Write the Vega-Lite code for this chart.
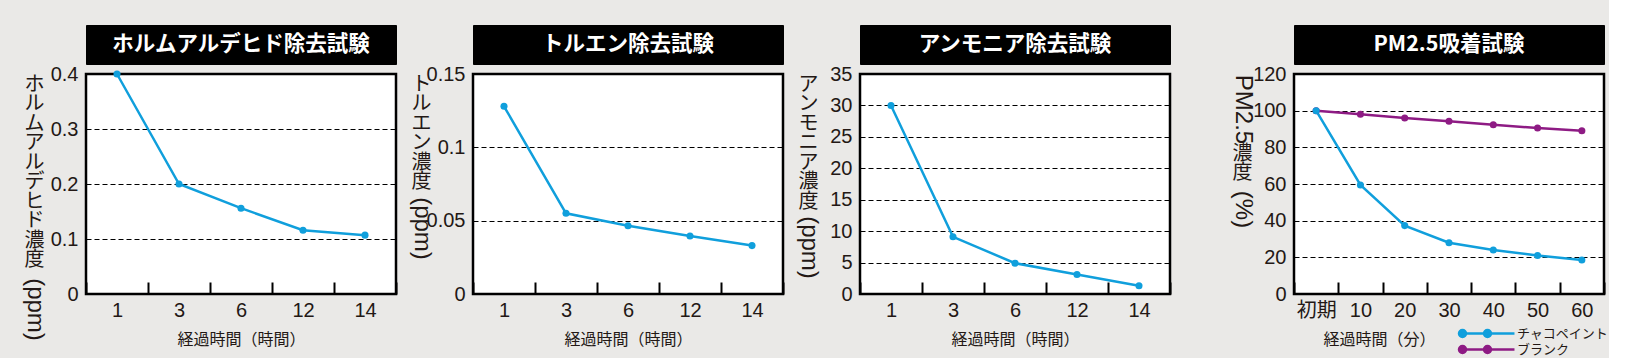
{
  "$schema": "https://vega.github.io/schema/vega-lite/v6.json",
  "background": "#eae9e7",
  "padding": {"left": 20, "top": 24, "right": 0, "bottom": 0},
  "spacing": 55,
  "config": {
    "view": {"stroke": "#000000", "strokeWidth": 2.5, "fill": "#ffffff"},
    "axisX": {
      "tickBand": "extent", "ticks": true, "tickSize": -12, "tickWidth": 2, "tickColor": "#000000",
      "domain": false, "grid": false, "labelAngle": 0,
      "labelFont": "Liberation Sans, Noto Sans CJK JP", "labelFontSize": 20, "labelColor": "#231815", "labelPadding": 18,
      "titleFont": "Noto Sans CJK JP", "titleFontSize": 16, "titleFontWeight": "normal", "titleColor": "#231815", "titlePadding": 11
    },
    "axisY": {
      "ticks": false, "domain": false, "grid": true, "gridDash": [5, 3], "gridColor": "#000000", "gridWidth": 1.2,
      "labelFont": "Liberation Sans", "labelFontSize": 20, "labelColor": "#231815", "labelPadding": 8,
      "titleFont": "Noto Sans CJK JP", "titleFontSize": 20, "titleFontWeight": "normal", "titleColor": "#231815",
      "titleAlign": "center", "titleLineHeight": 19.5
    }
  },
  "hconcat": [
    {
      "spacing": 8,
      "hconcat": [
        {
          "bounds": "flush",
          "spacing": 10,
          "vconcat": [
            {
              "width": 310, "height": 39,
              "view": {"fill": "#000000", "stroke": "#000000"},
              "data": {"values": [{"name": "ホルムアルデヒド除去試験"}]},
              "mark": {"type": "text", "color": "#ffffff", "font": "Noto Sans CJK JP", "fontSize": 21.5, "fontWeight": "bold"},
              "encoding": {"text": {"field": "name"}}
            },
            {
              "width": 310, "height": 220,
              "data": {"values": [
                {"time": "1", "value": 0.4},
                {"time": "3", "value": 0.2},
                {"time": "6", "value": 0.156},
                {"time": "12", "value": 0.116},
                {"time": "14", "value": 0.107}
              ]},
              "encoding": {
                "x": {"field": "time", "type": "ordinal", "sort": ["1", "3", "6", "12", "14"],
                  "scale": {"type": "band", "paddingInner": 0, "paddingOuter": 0},
                  "axis": {"title": "経過時間（時間）"}}
              },
              "layer": [
                {
                  "mark": {"type": "line", "color": "#109fdc", "strokeWidth": 2.5},
                  "encoding": {
                    "y": {"field": "value", "type": "quantitative", "scale": {"domain": [0, 0.4], "nice": false},
                      "axis": {"orient": "left", "values": [0, 0.1, 0.2, 0.3, 0.4], "format": ".2~g",
                        "title": ["ホ", "ル", "ム", "ア", "ル", "デ", "ヒ", "ド", "濃", "度"],
                        "titleX": -52, "titleY": 0, "titleAngle": 0, "titleBaseline": "top",
                        "encode": {"title": {"update": {"angle": {"value": 0}}}}}}
                  }
                },
                {
                  "mark": {"type": "point", "filled": true, "size": 50, "opacity": 1, "color": "#109fdc"},
                  "encoding": {
                    "y": {"field": "value", "type": "quantitative",
                      "axis": {"orient": "left", "labels": false, "grid": false, "title": "(ppm)",
                        "titleFont": "Liberation Sans", "titleFontSize": 24,
                        "titleX": -52, "titleY": 235, "titleAngle": 90, "titleBaseline": "middle",
                        "encode": {"title": {"update": {"angle": {"value": 90}}}}}}
                  }
                }
              ],
              "resolve": {"axis": {"y": "independent"}}
            }
          ]
        },
        {
          "bounds": "flush",
          "spacing": 10,
          "vconcat": [
            {
              "width": 310, "height": 39,
              "view": {"fill": "#000000", "stroke": "#000000"},
              "data": {"values": [{"name": "トルエン除去試験"}]},
              "mark": {"type": "text", "color": "#ffffff", "font": "Noto Sans CJK JP", "fontSize": 21.5, "fontWeight": "bold"},
              "encoding": {"text": {"field": "name"}}
            },
            {
              "width": 310, "height": 220,
              "data": {"values": [
                {"time": "1", "value": 0.128},
                {"time": "3", "value": 0.055},
                {"time": "6", "value": 0.0465},
                {"time": "12", "value": 0.0395},
                {"time": "14", "value": 0.033}
              ]},
              "encoding": {
                "x": {"field": "time", "type": "ordinal", "sort": ["1", "3", "6", "12", "14"],
                  "scale": {"type": "band", "paddingInner": 0, "paddingOuter": 0},
                  "axis": {"title": "経過時間（時間）"}}
              },
              "layer": [
                {
                  "mark": {"type": "line", "color": "#109fdc", "strokeWidth": 2.5},
                  "encoding": {
                    "y": {"field": "value", "type": "quantitative", "scale": {"domain": [0, 0.15], "nice": false},
                      "axis": {"orient": "left", "values": [0, 0.05, 0.1, 0.15], "format": ".2~g",
                        "title": ["ト", "ル", "エ", "ン", "濃", "度"],
                        "titleX": -52, "titleY": 0, "titleAngle": 0, "titleBaseline": "top",
                        "encode": {"title": {"update": {"angle": {"value": 0}}}}}}
                  }
                },
                {
                  "mark": {"type": "point", "filled": true, "size": 50, "opacity": 1, "color": "#109fdc"},
                  "encoding": {
                    "y": {"field": "value", "type": "quantitative",
                      "axis": {"orient": "left", "labels": false, "grid": false, "title": "(ppm)",
                        "titleFont": "Liberation Sans", "titleFontSize": 24,
                        "titleX": -52, "titleY": 154, "titleAngle": 90, "titleBaseline": "middle",
                        "encode": {"title": {"update": {"angle": {"value": 90}}}}}}
                  }
                }
              ],
              "resolve": {"axis": {"y": "independent"}}
            }
          ]
        },
        {
          "bounds": "flush",
          "spacing": 10,
          "vconcat": [
            {
              "width": 310, "height": 39,
              "view": {"fill": "#000000", "stroke": "#000000"},
              "data": {"values": [{"name": "アンモニア除去試験"}]},
              "mark": {"type": "text", "color": "#ffffff", "font": "Noto Sans CJK JP", "fontSize": 21.5, "fontWeight": "bold"},
              "encoding": {"text": {"field": "name"}}
            },
            {
              "width": 310, "height": 220,
              "data": {"values": [
                {"time": "1", "value": 30},
                {"time": "3", "value": 9.1},
                {"time": "6", "value": 4.9},
                {"time": "12", "value": 3.1},
                {"time": "14", "value": 1.3}
              ]},
              "encoding": {
                "x": {"field": "time", "type": "ordinal", "sort": ["1", "3", "6", "12", "14"],
                  "scale": {"type": "band", "paddingInner": 0, "paddingOuter": 0},
                  "axis": {"title": "経過時間（時間）"}}
              },
              "layer": [
                {
                  "mark": {"type": "line", "color": "#109fdc", "strokeWidth": 2.5},
                  "encoding": {
                    "y": {"field": "value", "type": "quantitative", "scale": {"domain": [0, 35], "nice": false},
                      "axis": {"orient": "left", "values": [0, 5, 10, 15, 20, 25, 30, 35],
                        "title": ["ア", "ン", "モ", "ニ", "ア", "濃", "度"],
                        "titleX": -52, "titleY": 0, "titleAngle": 0, "titleBaseline": "top",
                        "encode": {"title": {"update": {"angle": {"value": 0}}}}}}
                  }
                },
                {
                  "mark": {"type": "point", "filled": true, "size": 50, "opacity": 1, "color": "#109fdc"},
                  "encoding": {
                    "y": {"field": "value", "type": "quantitative",
                      "axis": {"orient": "left", "labels": false, "grid": false, "title": "(ppm)",
                        "titleFont": "Liberation Sans", "titleFontSize": 24,
                        "titleX": -52, "titleY": 173, "titleAngle": 90, "titleBaseline": "middle",
                        "encode": {"title": {"update": {"angle": {"value": 90}}}}}}
                  }
                }
              ],
              "resolve": {"axis": {"y": "independent"}}
            }
          ]
        }
      ]
    },
    {
      "bounds": "flush",
      "spacing": 10,
      "vconcat": [
        {
          "width": 310, "height": 39,
          "view": {"fill": "#000000", "stroke": "#000000"},
          "data": {"values": [{"name": "PM2.5吸着試験"}]},
          "mark": {"type": "text", "color": "#ffffff", "font": "Noto Sans CJK JP", "fontSize": 21.5, "fontWeight": "bold"},
          "encoding": {"text": {"field": "name"}}
        },
        {
          "width": 310, "height": 220,
          "data": {"values": [
            {"time": "初期", "series": "ブランク", "value": 100},
            {"time": "10", "series": "ブランク", "value": 98},
            {"time": "20", "series": "ブランク", "value": 96},
            {"time": "30", "series": "ブランク", "value": 94.2},
            {"time": "40", "series": "ブランク", "value": 92.3},
            {"time": "50", "series": "ブランク", "value": 90.5},
            {"time": "60", "series": "ブランク", "value": 89},
            {"time": "初期", "series": "チャコペイント", "value": 100},
            {"time": "10", "series": "チャコペイント", "value": 59.5},
            {"time": "20", "series": "チャコペイント", "value": 37.3},
            {"time": "30", "series": "チャコペイント", "value": 28},
            {"time": "40", "series": "チャコペイント", "value": 24},
            {"time": "50", "series": "チャコペイント", "value": 21},
            {"time": "60", "series": "チャコペイント", "value": 18.5}
          ]},
          "encoding": {
            "x": {"field": "time", "type": "ordinal", "sort": ["初期", "10", "20", "30", "40", "50", "60"],
              "scale": {"type": "band", "paddingInner": 0, "paddingOuter": 0},
              "axis": {"title": "経過時間（分）", "titleX": 85}},
            "color": {"field": "series", "type": "nominal",
              "scale": {"domain": ["チャコペイント", "ブランク"], "range": ["#109fdc", "#8e1b84"]},
              "legend": {
                "orient": "none", "legendX": 1371, "legendY": 301, "title": null,
                "symbolType": "M-1,0L8.33,0M-0.916,0A0.583,0.583,0,1,0,0.25,0A0.583,0.583,0,1,0,-0.916,0ZM3.25,0A0.583,0.583,0,1,0,4.416,0A0.583,0.583,0,1,0,3.25,0Z",
                "symbolSize": 144, "symbolStrokeWidth": 2.5,
                "labelFont": "Noto Sans CJK JP", "labelFontSize": 13, "labelColor": "#231815", "labelOffset": 45, "rowPadding": -3,
                "encode": {"symbols": {"update": {"fill": {"scale": "color", "field": "value"}, "stroke": {"scale": "color", "field": "value"}}}}
              }}
          },
          "layer": [
            {
              "mark": {"type": "line", "strokeWidth": 2.5},
              "encoding": {
                "y": {"field": "value", "type": "quantitative", "scale": {"domain": [0, 120], "nice": false},
                  "axis": {"orient": "left", "values": [0, 20, 40, 60, 80, 100, 120],
                    "title": "PM2.5", "titleFont": "Liberation Sans", "titleFontSize": 24,
                    "titleX": -52, "titleY": 35, "titleAngle": 90, "titleBaseline": "middle",
                    "encode": {"title": {"update": {"angle": {"value": 90}}}}}}
              }
            },
            {
              "transform": [{"filter": "datum.series === 'ブランク'"}],
              "mark": {"type": "point", "filled": true, "size": 50, "opacity": 1},
              "encoding": {
                "y": {"field": "value", "type": "quantitative",
                  "axis": {"orient": "left", "labels": false, "grid": false, "title": ["濃", "度"],
                    "titleX": -52, "titleY": 69, "titleAngle": 0, "titleBaseline": "top",
                    "encode": {"title": {"update": {"angle": {"value": 0}}}}}}
              }
            },
            {
              "transform": [{"filter": "datum.series === 'チャコペイント'"}],
              "mark": {"type": "point", "filled": true, "size": 50, "opacity": 1},
              "encoding": {
                "y": {"field": "value", "type": "quantitative",
                  "axis": {"orient": "left", "labels": false, "grid": false, "title": "(%)",
                    "titleFont": "Liberation Sans", "titleFontSize": 24,
                    "titleX": -52, "titleY": 135, "titleAngle": 90, "titleBaseline": "middle",
                    "encode": {"title": {"update": {"angle": {"value": 90}}}}}}
              }
            }
          ],
          "resolve": {"axis": {"y": "independent"}}
        }
      ]
    }
  ]
}
